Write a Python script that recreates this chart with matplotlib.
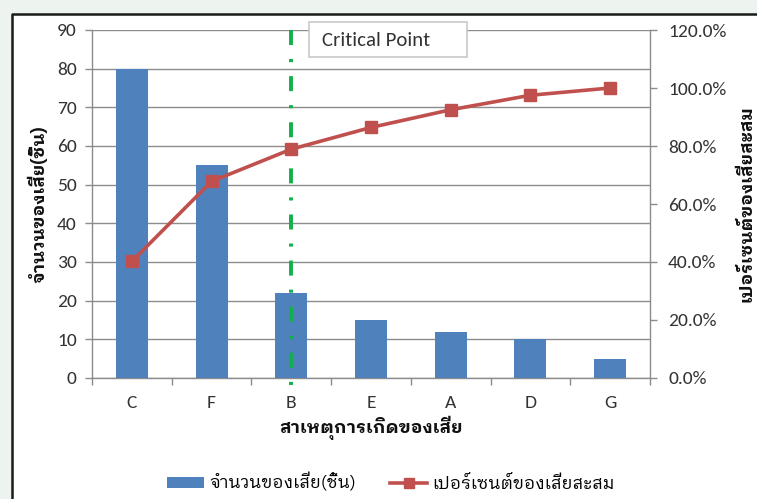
import matplotlib
matplotlib.use("Agg")
import matplotlib.pyplot as plt
from matplotlib.patches import Rectangle
from matplotlib.lines import Line2D
from matplotlib.ticker import FixedLocator, FuncFormatter

# Defect causes (Pareto order), defect counts and cumulative percentage
causes = ["C", "F", "B", "E", "A", "D", "G"]
defects = [80, 55, 22, 15, 12, 10, 5]
cumulative_pct = [40.2, 67.8, 78.9, 86.4, 92.5, 97.5, 100.0]
critical_cause = "B"

left_ticks = [0, 10, 20, 30, 40, 50, 60, 70, 80, 90]
right_ticks = [0, 20, 40, 60, 80, 100, 120]

THAI = ["IBM Plex Sans Thai Looped", "DejaVu Sans"]
LATIN = ["Carlito", "Lato", "DejaVu Sans"]

BAR_BLUE = "#4F81BD"
LINE_RED = "#C0504D"
GREEN = "#12B048"
GRID = "#8C8C8C"
TXT = "#333333"

fig = plt.figure(figsize=(7.57, 4.99), dpi=100, facecolor="#EDF3EE")

# white chart panel with a dark frame on top and left
fig.patches.append(Rectangle((12 / 757, 0), 1, 1 - 14 / 499, transform=fig.transFigure,
                             facecolor="white", edgecolor="none", zorder=-2))
fig.lines.append(Line2D([12 / 757, 12 / 757, 1.0], [0, 1 - 14 / 499, 1 - 14 / 499],
                        transform=fig.transFigure, color="#1A1A1A", lw=1.8, zorder=-1))

ax = fig.add_axes([92 / 757, 1 - 378 / 499, 558 / 757, 348 / 499])
ax.set_facecolor("none")
x = list(range(len(causes)))

ax.bar(x, defects, width=0.4, color=BAR_BLUE, zorder=3)
ax.set_xlim(-0.5, len(causes) - 0.5)
ax.set_ylim(0, 90)
ax.yaxis.set_major_locator(FixedLocator(left_ticks))
ax.grid(axis="y", color=GRID, lw=1.0, zorder=0)
ax.set_axisbelow(True)

ax.set_xticks(x)
ax.set_xticklabels(causes)
ax.xaxis.set_minor_locator(FixedLocator([i - 0.5 for i in range(len(causes) + 1)]))
ax.tick_params(axis="x", which="major", length=0, pad=12, labelsize=14, labelcolor=TXT)
ax.tick_params(axis="x", which="minor", length=5, width=1, color=GRID)
ax.tick_params(axis="y", length=5, width=1, color=GRID, pad=6, labelsize=14, labelcolor=TXT)
for lab in ax.get_xticklabels() + ax.get_yticklabels():
    lab.set_family(LATIN)

for side in ("top", "right"):
    ax.spines[side].set_visible(False)
for side in ("left", "bottom"):
    ax.spines[side].set_color(GRID)
    ax.spines[side].set_linewidth(1.0)

ax.set_ylabel("จำนวนของเสีย(ชิ้น)", family=THAI, fontsize=13, fontweight="bold",
              color="#111111", labelpad=6)
ax.set_xlabel("สาเหตุการเกิดของเสีย", family=THAI, fontsize=13, fontweight="bold",
              color="#111111", labelpad=4)

# critical point marker line
xc = causes.index(critical_cause)
ax.plot([xc, xc], [1.0, -0.045], transform=ax.get_xaxis_transform(), color=GREEN, lw=2.8,
        dashes=(3.86, 3.6, 0.8, 3.6), dash_capstyle="butt", clip_on=False, zorder=4)

ax2 = ax.twinx()
ax2.set_ylim(0, 120)
ax2.yaxis.set_major_locator(FixedLocator(right_ticks))
ax2.yaxis.set_major_formatter(FuncFormatter(lambda v, p: f"{v:.1f}%"))
ax2.plot(x, cumulative_pct, color=LINE_RED, lw=2.6, marker="s", markersize=9,
         markerfacecolor=LINE_RED, markeredgecolor=LINE_RED, zorder=5)
ax2.tick_params(axis="y", length=5, width=1, color=GRID, pad=8, labelsize=14, labelcolor=TXT)
for lab in ax2.get_yticklabels():
    lab.set_family(LATIN)
for side in ("top", "left", "bottom"):
    ax2.spines[side].set_visible(False)
ax2.spines["right"].set_color(GRID)
ax2.spines["right"].set_linewidth(1.0)
ax2.set_ylabel("เปอร์เซนต์ของเสียสะสม", family=THAI, fontsize=13, fontweight="bold",
               color="#111111", rotation=90, labelpad=8)

# "Critical Point" call-out box
fig.patches.append(Rectangle((309 / 757, 1 - 57 / 499), 158 / 757, 35 / 499,
                             transform=fig.transFigure, facecolor="white",
                             edgecolor="#C8C8C8", lw=1.2, zorder=9))
fig.text(322 / 757, 1 - 41 / 499, "Critical Point", family=LATIN, fontsize=15, color=TXT,
         ha="left", va="center", zorder=10)

# legend below the plot
handles = [
    Rectangle((0, 0), 1, 1, facecolor=BAR_BLUE, edgecolor="none"),
    Line2D([], [], color=LINE_RED, lw=2.6, marker="s", markersize=7),
]
labels = ["จำนวนของเสีย(ชิ้น)", "เปอร์เซนต์ของเสียสะสม"]
fig.legend(handles, labels, loc="center", bbox_to_anchor=(391 / 757, 1 - 482 / 499),
           ncol=2, frameon=False, prop={"family": THAI, "size": 12.5},
           handlelength=2.1, handleheight=0.6, handletextpad=0.3, columnspacing=2.0)

fig.savefig("out.png", dpi=100, facecolor=fig.get_facecolor())
